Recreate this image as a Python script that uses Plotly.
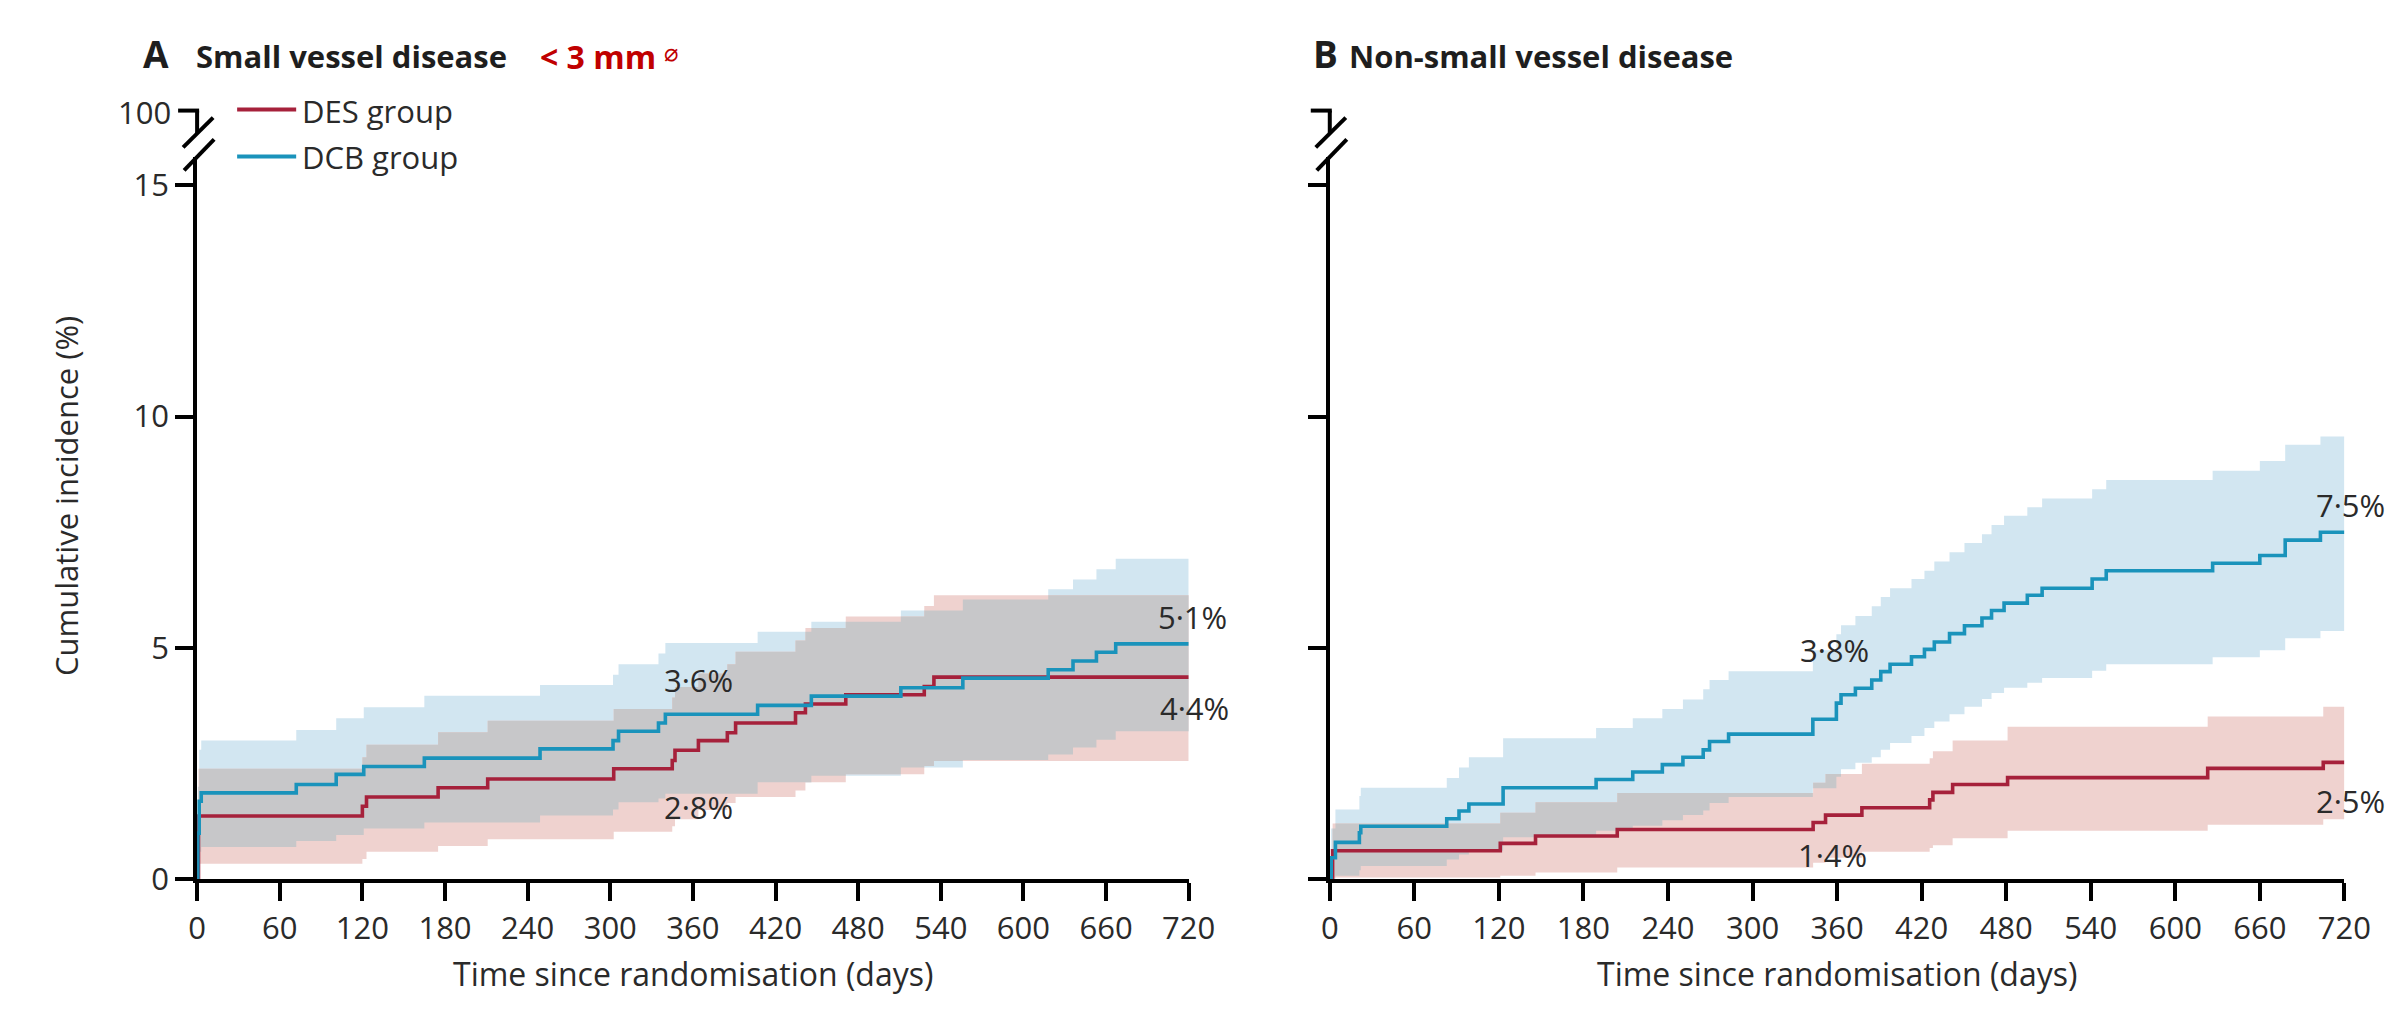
import plotly.graph_objects as go

# The rendered page is photographed with a small uniform shrink and offset;
# all layout positions below are given in photograph pixels and mapped back.
SCALE = 0.9845
BX, BY = 17.0, 7.0
W, H = 2414, 1025
END_DAY = 720

# ---------------- data ----------------
# Panel A: small vessel disease
A_DES_T   = [0, 1, 120, 123, 175, 211, 302.5, 345, 347, 364, 385, 391, 434.5, 441.7, 471, 528, 535]
A_DES_EST = [0, 1.37, 1.58, 1.78, 1.98, 2.17, 2.39, 2.57, 2.79, 3.00, 3.17, 3.38, 3.60, 3.79, 3.99, 4.17, 4.37]
A_DES_LO  = [0, 0.34, 0.44, 0.60, 0.72, 0.87, 1.03, 1.15, 1.30, 1.50, 1.65, 1.78, 1.92, 2.10, 2.27, 2.45, 2.56]
A_DES_HI  = [0, 2.39, 2.64, 2.91, 3.18, 3.43, 3.68, 3.93, 4.16, 4.45, 4.65, 4.92, 5.16, 5.43, 5.68, 5.91, 6.14]

A_DCB_T   = [0, 0.5, 1.5, 3, 72, 101, 121, 165, 249, 302, 306, 335, 340, 407, 446, 511, 556, 618, 636, 653, 667]
A_DCB_EST = [0, 1.00, 1.69, 1.87, 2.05, 2.27, 2.44, 2.62, 2.82, 3.00, 3.20, 3.38, 3.57, 3.76, 3.96, 4.14, 4.35, 4.53, 4.72, 4.91, 5.09]
A_DCB_LO  = [0, 0.30, 0.60, 0.70, 0.83, 0.96, 1.10, 1.23, 1.38, 1.51, 1.67, 1.75, 1.85, 2.10, 2.24, 2.42, 2.58, 2.70, 2.85, 3.02, 3.20]
A_DCB_HI  = [0, 2.00, 2.80, 3.00, 3.23, 3.48, 3.72, 3.97, 4.20, 4.42, 4.65, 4.88, 5.11, 5.35, 5.57, 5.81, 6.05, 6.27, 6.48, 6.70, 6.93]

# Panel B: non-small vessel disease
B_DES_T   = [0, 2, 121, 146, 204, 343, 351.8, 377.6, 425.7, 428, 442, 481, 623, 705]
B_DES_EST = [0, 0.62, 0.78, 0.94, 1.08, 1.23, 1.39, 1.55, 1.72, 1.88, 2.05, 2.20, 2.40, 2.53]
B_DES_LO  = [0, 0.04, 0.08, 0.15, 0.26, 0.36, 0.47, 0.60, 0.68, 0.74, 0.89, 1.05, 1.18, 1.30]
B_DES_HI  = [0, 1.21, 1.44, 1.67, 1.87, 2.09, 2.28, 2.50, 2.62, 2.77, 3.00, 3.30, 3.52, 3.73]

B_DCB_T   = [0, 1, 4, 21, 22, 83, 91.7, 98.7, 123, 189, 215, 236, 250.6, 265, 269.5, 283, 342.8,
             359.5, 362.8, 373, 384.6, 391, 397.6, 412.8, 422, 429, 439.8, 450.4, 462.8, 469.6,
             478.5, 495, 505.5, 541, 551, 626.5, 660, 678, 703]
B_DCB_EST = [0, 0.47, 0.80, 1.01, 1.15, 1.31, 1.48, 1.63, 1.98, 2.16, 2.32, 2.48, 2.64, 2.80, 2.98, 3.14, 3.46,
             3.81, 3.99, 4.13, 4.31, 4.49, 4.65, 4.81, 4.97, 5.13, 5.31, 5.48, 5.65, 5.81,
             5.97, 6.14, 6.29, 6.49, 6.67, 6.83, 7.00, 7.33, 7.50]
B_DCB_LO  = [0, 0.00, 0.08, 0.20, 0.29, 0.43, 0.54, 0.62, 0.91, 1.05, 1.16, 1.28, 1.39, 1.49, 1.65, 1.78, 1.97,
             2.22, 2.38, 2.52, 2.64, 2.80, 2.95, 3.10, 3.27, 3.41, 3.57, 3.73, 3.90, 4.03,
             4.14, 4.25, 4.35, 4.51, 4.65, 4.80, 4.95, 5.21, 5.37]
B_DCB_HI  = [0, 1.10, 1.51, 1.80, 1.98, 2.19, 2.42, 2.64, 3.05, 3.27, 3.48, 3.68, 3.89, 4.11, 4.31, 4.50, 4.95,
             5.30, 5.49, 5.69, 5.90, 6.10, 6.29, 6.49, 6.67, 6.87, 7.07, 7.27, 7.46, 7.66,
             7.86, 8.04, 8.23, 8.43, 8.63, 8.83, 9.04, 9.39, 9.57]

X_TICKS = list(range(0, 721, 60))
Y_TICKS = [0, 5, 10, 15]
Y_TICK_TEXT = ["0", "5", "10", "15"]

# percentage labels: (panel, text, day, value, xshift px)
LABELS = [
    ("A", "3·6%", 364, 4.30, 0), ("A", "2·8%", 364, 1.57, 0),
    ("A", "5·1%", 720, 5.68, 4), ("A", "4·4%", 720, 3.70, 6),
    ("B", "3·8%", 358, 4.95, 0), ("B", "1·4%", 357, 0.52, 0),
    ("B", "7·5%", 720, 8.10, 6), ("B", "2·5%", 720, 1.70, 6),
]

# ---------------- style ----------------
FONT = "Open Sans"
RED = "#a6213b"
BLUE = "#1a93bb"
RED_FILL = "#efd2cf"
BLUE_FILL = "#d2e6f1"
GRAY_FILL = "#c7c7c9"
TXT = "#2a2a2a"
TITLE = "#1e1e1e"

# geometry in photograph pixels
AX_A = (197, 1188)
AX_B = (1329, 2343)
Y_BOT, Y_TOP = 882, 157
Y_MAX = 15.6


def fx(x):
    return (x - BX) / SCALE


def fy(y):
    return (y - BY) / SCALE


def px(x):
    return fx(x) / W


def py(y):
    return 1 - fy(y) / H


def step_at(ts, vs, t):
    v = vs[0]
    for ti, vi in zip(ts, vs):
        if ti <= t:
            v = vi
        else:
            break
    return v


def extend(ts, vs):
    return list(ts) + [END_DAY], list(vs) + [vs[-1]]


fig = go.Figure()


def add_band(ts, lo, hi, color, xa, ya):
    x, l = extend(ts, lo)
    _, h = extend(ts, hi)
    fig.add_trace(go.Scatter(x=x, y=l, mode="lines", line=dict(width=0, shape="hv", color=color),
                             hoverinfo="skip", showlegend=False, xaxis=xa, yaxis=ya))
    fig.add_trace(go.Scatter(x=x, y=h, mode="lines", line=dict(width=0, shape="hv", color=color),
                             fill="tonexty", fillcolor=color, hoverinfo="skip", showlegend=False,
                             xaxis=xa, yaxis=ya))


def add_panel(des, dcb, xa, ya):
    dt, de, dl, dh = des
    ct, ce, cl, ch = dcb
    add_band(ct, cl, ch, BLUE_FILL, xa, ya)
    add_band(dt, dl, dh, RED_FILL, xa, ya)
    # overlap of the two confidence bands
    times = sorted(set(dt) | set(ct))
    olo, ohi = [], []
    for t in times:
        lo_v = max(step_at(dt, dl, t), step_at(ct, cl, t))
        hi_v = min(step_at(dt, dh, t), step_at(ct, ch, t))
        if hi_v < lo_v:
            hi_v = lo_v
        olo.append(lo_v)
        ohi.append(hi_v)
    add_band(times, olo, ohi, GRAY_FILL, xa, ya)
    x, y = extend(dt, de)
    fig.add_trace(go.Scatter(x=x, y=y, mode="lines", name="DES group",
                             line=dict(color=RED, width=3.6, shape="hv"),
                             showlegend=False, xaxis=xa, yaxis=ya))
    x, y = extend(ct, ce)
    fig.add_trace(go.Scatter(x=x, y=y, mode="lines", name="DCB group",
                             line=dict(color=BLUE, width=3.6, shape="hv"),
                             showlegend=False, xaxis=xa, yaxis=ya))


add_panel((A_DES_T, A_DES_EST, A_DES_LO, A_DES_HI), (A_DCB_T, A_DCB_EST, A_DCB_LO, A_DCB_HI), "x", "y")
add_panel((B_DES_T, B_DES_EST, B_DES_LO, B_DES_HI), (B_DCB_T, B_DCB_EST, B_DCB_LO, B_DCB_HI), "x2", "y2")

axis_common = dict(showgrid=False, zeroline=False, showline=True, linecolor="black", linewidth=4,
                   ticks="outside", ticklen=18, tickwidth=4, tickcolor="black",
                   tickfont=dict(family=FONT, size=31, color=TXT))

xdomA = [px(AX_A[0]), px(AX_A[1])]
xdomB = [px(AX_B[0]), px(AX_B[1])]
ydom = [py(Y_BOT), py(Y_TOP)]

fig.update_layout(
    width=W, height=H, margin=dict(l=0, r=0, t=0, b=0),
    paper_bgcolor="white", plot_bgcolor="white",
    xaxis=dict(domain=xdomA, range=[0, END_DAY], tickvals=X_TICKS, anchor="y", **axis_common),
    yaxis=dict(domain=ydom, range=[0, Y_MAX], tickvals=Y_TICKS, ticktext=Y_TICK_TEXT, anchor="x", **axis_common),
    xaxis2=dict(domain=xdomB, range=[0, END_DAY], tickvals=X_TICKS, anchor="y2", **axis_common),
    yaxis2=dict(domain=ydom, range=[0, Y_MAX], tickvals=Y_TICKS, showticklabels=False, anchor="x2", **axis_common),
    showlegend=False,
)

shapes = []
ann = []


def line_px(x0, y0, x1, y1, color="black", width=4):
    shapes.append(dict(type="line", xref="paper", yref="paper", x0=px(x0), y0=py(y0), x1=px(x1), y1=py(y1),
                       line=dict(color=color, width=width), layer="above"))


def text_px(x, y, text, size=30, color=TXT, xanchor="left", angle=0, bold=False, family=FONT):
    ann.append(dict(xref="paper", yref="paper", x=px(x), y=py(y), text=("<b>%s</b>" % text) if bold else text,
                    showarrow=False, xanchor=xanchor, yanchor="middle", textangle=angle,
                    font=dict(family=family, size=size, color=color)))


# axis breaks with the 100 stub
for ax0 in (AX_A[0], AX_B[0]):
    line_px(ax0 - 19, 110, ax0 + 2, 110)
    line_px(ax0, 110, ax0, 133)
    line_px(ax0 - 14, 147, ax0 + 16, 117)
    line_px(ax0 - 13, 170, ax0 + 17, 139)
text_px(AX_A[0] - 24, 111, "100", size=31, xanchor="right")

# legend
line_px(237, 109, 296, 109, color=RED, width=4)
line_px(237, 156, 296, 156, color=BLUE, width=4)
text_px(300, 110, "DES group", size=31)
text_px(300, 157, "DCB group", size=31)

# titles
text_px(141, 53, "A", size=37, bold=True, color=TITLE)
text_px(194, 55, "Small vessel disease", size=31, bold=True, color=TITLE)
text_px(538, 56, "&lt; 3 mm", size=32, bold=True, color="#c00000")
text_px(662, 52, "⌀", size=24, color="#c00000", family="DejaVu Sans")
text_px(1310, 53, "B", size=37, bold=True, color=TITLE)
text_px(1346, 55, "Non-small vessel disease", size=31, bold=True, color=TITLE)

# axis titles
text_px(66, 497, "Cumulative incidence (%)", size=31, angle=-90, xanchor="center")
text_px((AX_A[0] + AX_A[1]) / 2, 976, "Time since randomisation (days)", size=32, xanchor="center")
text_px((AX_B[0] + AX_B[1]) / 2, 976, "Time since randomisation (days)", size=32, xanchor="center")

# percentage labels on the curves
for panel, txt, d, v, sh in LABELS:
    ann.append(dict(xref="x" if panel == "A" else "x2", yref="y" if panel == "A" else "y2",
                    x=d, y=v, text=txt, showarrow=False, xanchor="center", yanchor="middle", xshift=sh,
                    font=dict(family=FONT, size=31, color=TXT)))

fig.update_layout(shapes=shapes, annotations=ann)
fig.write_html("out.html")
